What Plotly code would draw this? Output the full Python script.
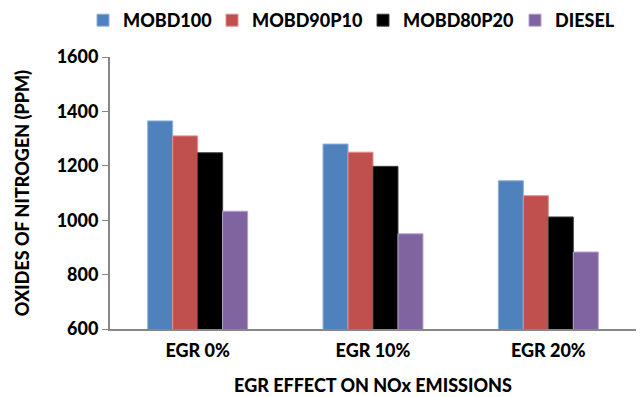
import plotly.graph_objects as go

categories = ["EGR 0%", "EGR 10%", "EGR 20%"]
series_names = ["MOBD100", "MOBD90P10", "MOBD80P20", "DIESEL"]
mobd100 = [1365, 1280, 1145]
mobd90p10 = [1310, 1250, 1090]
mobd80p20 = [1248, 1198, 1012]
diesel = [1033, 950, 883]

series_values = [mobd100, mobd90p10, mobd80p20, diesel]
fills = ["#4F81BD", "#C0504D", "#000000", "#8064A2"]
edges = ["#8DB0DE", "#E08F8D", "#404040", "#B5A0CF"]

# one legend box per series so each entry sits at its own spot in the top row
legend_ids = ["legend", "legend2", "legend3", "legend4"]
legend_x_px = [83, 212, 363, 515]

FONT = "Lato, 'Open Sans', sans-serif"
WEIGHT = 900

fig = go.Figure()
for name, vals, fc, ec, lg in zip(series_names, series_values, fills, edges, legend_ids):
    fig.add_trace(go.Bar(
        x=categories, y=vals, name=name, legend=lg,
        marker=dict(color=fc, line=dict(color=ec, width=1)),
    ))

legend_style = dict(
    orientation="h", y=0.995, xref="container", yref="container",
    xanchor="left", yanchor="top",
    font=dict(family=FONT, size=18, color="black", weight=WEIGHT),
    itemwidth=30, bgcolor="rgba(0,0,0,0)",
)

fig.update_layout(
    width=643, height=397,
    margin=dict(l=110, r=7, t=57, b=68, autoexpand=False),
    paper_bgcolor="white", plot_bgcolor="white",
    barmode="group", bargap=0.43, bargroupgap=0,
    font=dict(family=FONT, color="black", size=18),
    showlegend=True,
    xaxis=dict(
        showline=True, linecolor="#878787", linewidth=2,
        ticks="outside", ticklen=4, tickcolor="rgba(0,0,0,0)", showgrid=False,
        tickfont=dict(family=FONT, size=18, weight=WEIGHT),
        title=dict(text="EGR EFFECT ON NOx EMISSIONS",
                   font=dict(family=FONT, size=18, weight=WEIGHT),
                   standoff=20),
    ),
    yaxis=dict(
        range=[600, 1600], dtick=200,
        showline=True, linecolor="#878787", linewidth=2,
        ticks="outside", ticklen=6, tickcolor="#878787", tickwidth=1,
        showgrid=False, zeroline=False,
        tickfont=dict(family=FONT, size=18, weight=WEIGHT),
        title=dict(text="OXIDES OF NITROGEN (PPM)",
                   font=dict(family=FONT, size=18, weight=WEIGHT),
                   standoff=22),
    ),
)
for lg, xp in zip(legend_ids, legend_x_px):
    fig.update_layout({lg: dict(legend_style, x=xp / 643)})

fig.write_html("out.html")
